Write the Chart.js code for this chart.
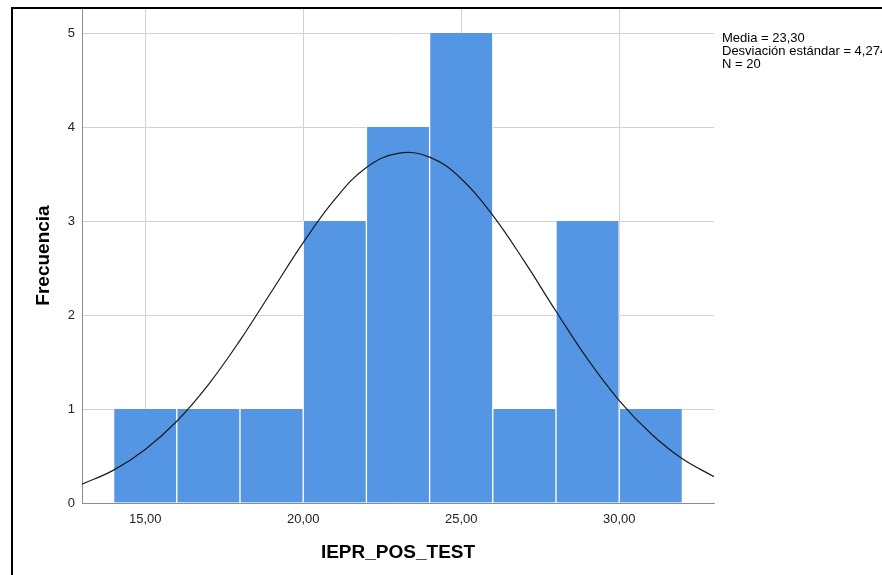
<!DOCTYPE html>
<html>
<head>
<meta charset="utf-8">
<script src="https://cdn.jsdelivr.net/npm/chart.js@4.4.1/dist/chart.umd.min.js"></script>
<style>
  html, body { margin: 0; padding: 0; background: #fff; overflow: hidden; }
  #wrap { position: relative; width: 882px; height: 575px; overflow: hidden; }
  #frame {
    position: absolute; left: 11px; top: 7px; right: 0; bottom: 0;
    border-left: 2px solid #000; border-top: 2px solid #000;
    pointer-events: none;
  }
  #stats {
    position: absolute; left: 722px; top: 31px;
    font: 13px "Liberation Sans", Arial, sans-serif; line-height: 13px;
    color: #000; white-space: nowrap;
  }
</style>
</head>
<body>
<div id="wrap">
  <canvas id="chart"></canvas>
  <div id="frame"></div>
  <div id="stats"></div>
</div>
<script>
// histogram bins (centre of each 2-wide bin) and counts
const binCenters = [15, 17, 19, 21, 23, 25, 27, 29, 31];
const counts = [1, 1, 1, 3, 4, 5, 1, 3, 1];

// normal curve
const curveX = [13, 14, 15, 16, 17, 18, 19, 20, 21, 22, 23, 24, 25, 26, 27, 28, 29, 30, 31, 32, 33];
const curveY = [0.20, 0.35, 0.57, 0.87, 1.26, 1.73, 2.25, 2.77, 3.23, 3.57, 3.72, 3.68, 3.45, 3.06, 2.57, 2.04, 1.53, 1.09, 0.74, 0.47, 0.28];

const xTicks = [15, 20, 25, 30];
const yTicks = [0, 1, 2, 3, 4, 5];

const statsLines = ['Media = 23,30', 'Desviación estándar = 4,274', 'N = 20'];

document.getElementById('stats').innerHTML = statsLines.join('<br>');

const font = '"Liberation Sans", Arial, sans-serif';

const ctx = document.getElementById('chart').getContext('2d');
new Chart(ctx, {
  type: 'bar',
  data: {
    datasets: [
      {
        type: 'line',
        data: curveX.map((x, i) => ({ x: x, y: curveY[i] })),
        borderColor: '#1a1a1a',
        borderWidth: 1.2,
        pointRadius: 0,
        tension: 0.4,
        fill: false,
        order: 0
      },
      {
        type: 'bar',
        data: binCenters.map((x, i) => ({ x: x, y: counts[i] })),
        backgroundColor: '#5596e4',
        borderColor: '#ffffff',
        borderWidth: { left: 1, right: 1, top: 0, bottom: 0 },
        borderSkipped: false,
        barPercentage: 1,
        categoryPercentage: 1,
        order: 1
      }
    ]
  },
  options: {
    responsive: true,
    maintainAspectRatio: false,
    animation: false,
    layout: { padding: { left: 12, top: 8, right: 168, bottom: 0 } },
    plugins: {
      legend: { display: false },
      tooltip: { enabled: false }
    },
    scales: {
      x: {
        type: 'linear',
        min: 13,
        max: 33,
        offset: false,
        afterBuildTicks: scale => {
          scale.ticks = xTicks.map(v => ({ value: v }));
        },
        afterFit: scale => {
          scale.height = 72;
          scale.paddingLeft = 0;
          scale.paddingRight = 0;
        },
        grid: { color: '#d2d2d2', drawTicks: false, offset: false },
        border: { color: '#8c8c8c', width: 1 },
        ticks: {
          padding: 9,
          color: '#222',
          font: { family: font, size: 13 },
          maxRotation: 0,
          callback: v => v.toFixed(2).replace('.', ',')
        },
        title: {
          display: true,
          text: 'IEPR_POS_TEST',
          color: '#000',
          font: { family: font, size: 19, weight: 'bold' },
          padding: { top: 0, bottom: 10.6 }
        }
      },
      y: {
        min: 0,
        max: 5.266,
        afterBuildTicks: scale => {
          scale.ticks = yTicks.map(v => ({ value: v }));
        },
        afterFit: scale => {
          scale.width = 70;
          scale.paddingTop = 0;
          scale.paddingBottom = 0;
        },
        grid: { color: '#d2d2d2', drawTicks: false },
        border: { color: '#8c8c8c', width: 1 },
        ticks: {
          padding: 7,
          color: '#222',
          font: { family: font, size: 13 },
          callback: v => String(v)
        },
        title: {
          display: true,
          text: 'Frecuencia',
          color: '#000',
          font: { family: font, size: 19, weight: 'bold' },
          padding: { top: 20.6, bottom: 0 }
        }
      }
    }
  }
});
</script>
</body>
</html>
